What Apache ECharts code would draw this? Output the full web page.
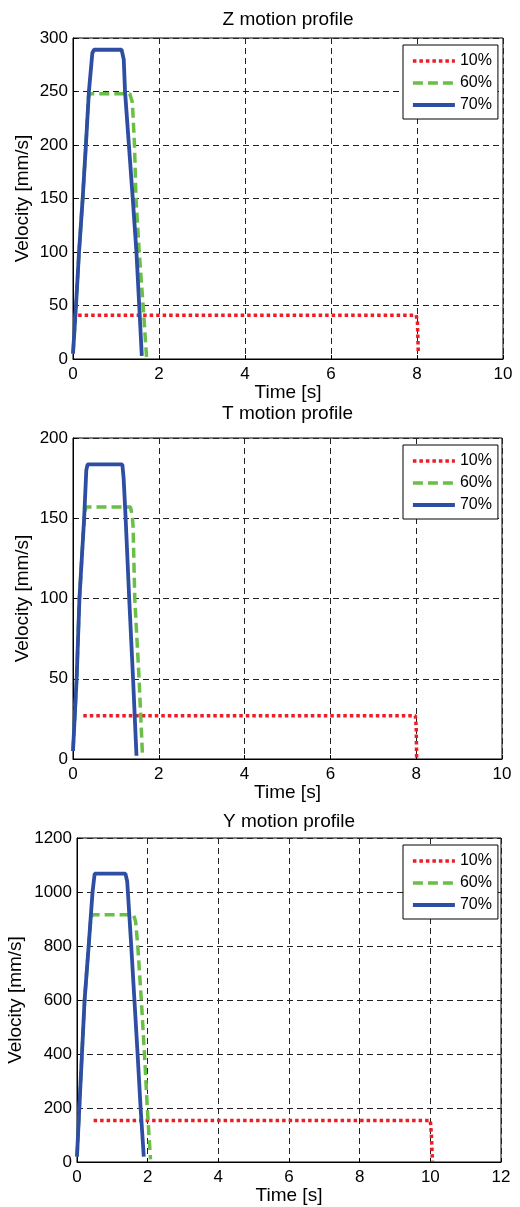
<!DOCTYPE html>
<html>
<head>
<meta charset="utf-8">
<script src="https://cdn.jsdelivr.net/npm/echarts@6/dist/echarts.min.js"></script>
<style>
  html, body { margin: 0; padding: 0; background: #fff; }
  #chart { width: 520px; height: 1207px; }
</style>
</head>
<body>
<div id="chart"></div>
<script>
// [time s, velocity mm/s]
const z10 = [[0.12, 41], [7.98, 41], [8.01, 35], [8.03, 5]];
const z60 = [[0, 5], [0.07, 50], [0.14, 100], [0.225, 150], [0.3, 200], [0.36, 245], [0.4, 248], [1.32, 248], [1.38, 240], [1.43, 200], [1.465, 150], [1.54, 100], [1.63, 50], [1.71, 2]];
const z70 = [[0, 5], [0.07, 50], [0.14, 100], [0.225, 150], [0.3, 200], [0.37, 250], [0.45, 286], [0.49, 289], [1.13, 289], [1.18, 280], [1.21, 250], [1.39, 150], [1.475, 100], [1.54, 50], [1.6, 3]];

const t10 = [[0.24, 27], [7.98, 27], [8.0, 20], [8.01, 0]];
const t60 = [[0, 5], [0.085, 50], [0.15, 100], [0.26, 150], [0.3, 157], [1.34, 157], [1.38, 152], [1.4, 145], [1.44, 100], [1.54, 50], [1.62, 2]];
const t70 = [[0, 5], [0.085, 50], [0.15, 100], [0.26, 150], [0.31, 180], [0.34, 183.6], [1.15, 183.6], [1.18, 175], [1.227, 150], [1.31, 100], [1.4, 50], [1.48, 2]];

const y10 = [[0.47, 154], [10.0, 154], [10.03, 100], [10.06, 0]];
const y60 = [[0, 20], [0.066, 200], [0.14, 400], [0.215, 600], [0.33, 800], [0.39, 900], [0.43, 916], [1.6, 916], [1.66, 890], [1.72, 800], [1.82, 600], [1.91, 400], [1.99, 200], [2.08, 10]];
const y70 = [[0, 20], [0.066, 200], [0.14, 400], [0.215, 600], [0.33, 800], [0.44, 1000], [0.5, 1068], [1.37, 1068], [1.42, 1040], [1.44, 1000], [1.535, 800], [1.625, 600], [1.715, 400], [1.8, 200], [1.89, 20]];

const seriesNames = ["10%", "60%", "70%"];
const titles = ["Z motion profile", "T motion profile", "Y motion profile"];

const FONT = '"Liberation Sans", Arial, Helvetica, sans-serif';

// panel layout in page pixels
const panels = [
  { top: 38, height: 321, left: 73, width: 430, xMax: 10, yMax: 300, yStep: 50, titleTop: 10, yGap: 41, data: [z10, z60, z70] },
  { top: 438, height: 321, left: 73, width: 429, xMax: 10, yMax: 200, yStep: 50, titleTop: 404, yGap: 41, data: [t10, t60, t70] },
  { top: 838, height: 324, left: 77, width: 424, xMax: 12, yMax: 1200, yStep: 200, titleTop: 812, yGap: 52, data: [y10, y60, y70] },
];

const lineStyles = [
  { color: "#ee1c25", width: 3.5, type: [3.5, 3] },
  { color: "#6abf45", width: 3.5, type: [10, 5] },
  { color: "#2d4ea3", width: 3.8, type: "solid" },
];

const grid = [], xAxis = [], yAxis = [], series = [], title = [], legend = [];

panels.forEach((p, i) => {
  title.push({
    text: titles[i],
    left: p.left + p.width / 2,
    top: p.titleTop,
    textAlign: "center",
    padding: 0,
    textStyle: { fontSize: 19, fontWeight: "normal", color: "#000", fontFamily: FONT },
  });
  grid.push({
    left: p.left, top: p.top, width: p.width, height: p.height,
    outerBoundsMode: "none",
    containLabel: false,
    show: true, borderColor: "#000", borderWidth: 1,
  });
  xAxis.push({
    gridIndex: i,
    type: "value",
    min: 0,
    max: p.xMax,
    interval: 2,
    name: "Time [s]",
    nameLocation: "middle",
    nameGap: 24,
    nameMoveOverlap: false,
    nameTextStyle: { fontSize: 19, color: "#000", fontFamily: FONT },
    axisLine: { onZero: false, lineStyle: { color: "#000", width: 1 } },
    axisTick: { inside: true, length: 4, lineStyle: { color: "#000" } },
    axisLabel: { fontSize: 17, color: "#000", margin: 7, fontFamily: FONT, formatter: (v) => String(v) },
    splitLine: { lineStyle: { color: "#222", width: 1, type: [6, 4] } },
  });
  yAxis.push({
    gridIndex: i,
    type: "value",
    min: 0,
    max: p.yMax,
    interval: p.yStep,
    name: "Velocity [mm/s]",
    nameLocation: "middle",
    nameGap: p.yGap,
    nameMoveOverlap: false,
    nameTextStyle: { fontSize: 19, color: "#000", fontFamily: FONT },
    axisLine: { show: true, onZero: false, lineStyle: { color: "#000", width: 1 } },
    axisTick: { show: true, inside: true, length: 4, lineStyle: { color: "#000" } },
    axisLabel: { fontSize: 17, color: "#000", margin: 5, fontFamily: FONT, formatter: (v) => String(v) },
    splitLine: { lineStyle: { color: "#222", width: 1, type: [6, 4] } },
  });
  p.data.forEach((d, k) => {
    series.push({
      name: seriesNames[k],
      type: "line",
      xAxisIndex: i,
      yAxisIndex: i,
      data: d,
      symbol: "none",
      lineStyle: lineStyles[k],
      itemStyle: { color: lineStyles[k].color },
      z: 2 + k,
    });
  });
  legend.push({
    data: seriesNames.map((n, k) => ({ name: n, lineStyle: { width: lineStyles[k].width } })),
    orient: "vertical",
    left: 403,
    top: p.top + 7,
    itemWidth: 42,
    itemHeight: 14,
    itemGap: 6,
    padding: [8, 6, 6, 8],
    borderColor: "#000",
    borderWidth: 1,
    backgroundColor: "#fff",
    itemStyle: { opacity: 0 },
    textStyle: { fontSize: 16, color: "#000", fontFamily: FONT },
  });
});

const myChart = echarts.init(document.getElementById("chart"));
myChart.setOption({
  animation: false,
  backgroundColor: "#fff",
  title,
  legend,
  grid,
  xAxis,
  yAxis,
  series,
});
</script>
</body>
</html>
